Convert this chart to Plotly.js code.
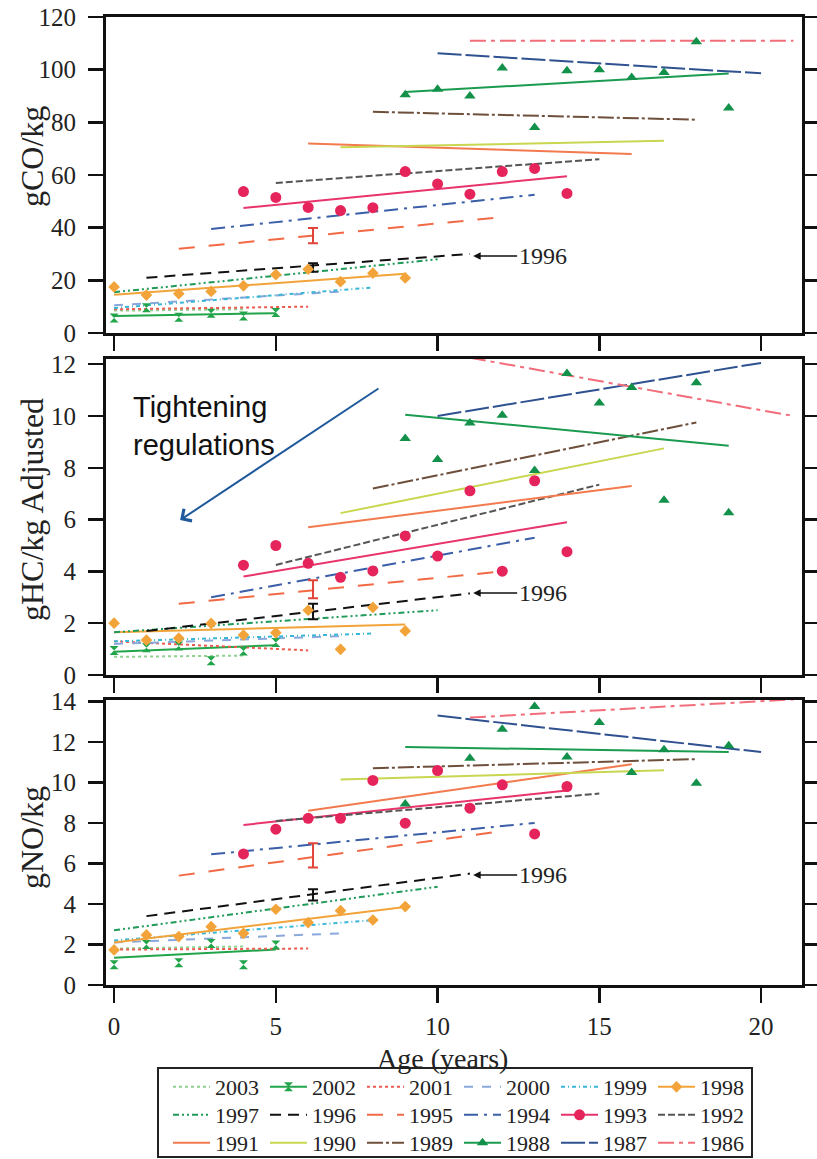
<!DOCTYPE html>
<html><head><meta charset="utf-8">
<script src="https://cdn.plot.ly/plotly-3.0.1.min.js"></script>
<style>html,body{margin:0;padding:0;background:#fff;overflow:hidden}#chart{width:817px;height:1176px}</style>
</head><body><div id="chart"></div>
<script>
// ---------- data ----------
const modelYears = ['2003','2002','2001','2000','1999','1998','1997','1996','1995','1994','1993','1992','1991','1990','1989','1988','1987','1986'];
const startAge = [0,0,0,0,0,0,0,1,2,3,4,5,6,7,8,9,10,11];
const endAge   = [4,5,6,7,8,9,10,11,12,13,14,15,16,17,18,19,20,21];

// fitted lines: value at start age / end age
const coStart = [8.5, 6.5, 9, 10.5, 9.5, 14.5, 15.5, 21, 32, 39.5, 47.5, 57, 72, 70.5, 84, 91.5, 106.2, 111];
const coEnd   = [9, 7.5, 10, 15.7, 17.3, 22.5, 28, 30, 44, 52.5, 59.5, 66, 68, 73, 81, 98.5, 98.6, 111];
const hcStart = [0.7, 0.9, 1.3, 1.2, 1.3, 1.65, 1.65, 1.7, 2.75, 3.0, 3.8, 4.25, 5.7, 6.25, 7.2, 10.05, 10.0, 12.25];
const hcEnd   = [0.75, 1.15, 0.95, 1.5, 1.6, 1.95, 2.5, 3.15, 4.0, 5.3, 5.9, 7.35, 7.3, 8.75, 9.75, 8.85, 12.05, 10.0];
const noStart = [1.8, 1.35, 1.75, 2.1, 2.2, 2.1, 2.7, 3.4, 5.4, 6.45, 7.9, 8.1, 8.6, 10.15, 10.7, 11.75, 13.3, 13.2];
const noEnd   = [1.9, 1.75, 1.8, 2.55, 3.2, 3.85, 4.85, 5.5, 7.6, 8.0, 9.6, 9.45, 10.9, 10.6, 11.15, 11.5, 11.5, 14.1];

// measured points
const ages2002 = [0,1,2,3,4,5];
const co2002 = [5.7, 9.6, 6.0, 7.5, 6.5, 7.8];
const hc2002 = [0.95, 1.05, 1.12, 0.55, 0.93, 1.25];
const no2002 = [1.0, 2.0, 1.1, 2.05, 1.0, 1.98];

const ages1998 = [0,1,2,3,4,5,6,7,8,9];
const co1998 = [17.5, 14.4, 14.9, 15.8, 17.9, 22.2, 24.2, 19.5, 22.7, 20.9];
const hc1998 = [2.0, 1.35, 1.42, 1.99, 1.54, 1.63, 2.5, 0.99, 2.61, 1.7];
const no1998 = [1.73, 2.47, 2.39, 2.88, 2.55, 3.74, 3.08, 3.67, 3.21, 3.87];

const ages1993 = [4,5,6,7,8,9,10,11,12,13,14];
const co1993 = [53.7, 51.5, 47.7, 46.5, 47.6, 61.3, 56.6, 52.7, 61.3, 62.5, 53.0];
const hc1993 = [4.24, 5.0, 4.31, 3.77, 4.02, 5.37, 4.59, 7.11, 4.01, 7.5, 4.76];
const no1993 = [6.47, 7.69, 8.23, 8.23, 10.1, 7.99, 10.59, 8.73, 9.88, 7.46, 9.8];

const ages1988 = [9,10,11,12,13,14,15,16,17,18,19];
const co1988 = [90.5, 92.6, 90.0, 100.6, 78.0, 99.6, 100.0, 97.0, 98.9, 110.6, 85.4];
const hc1988 = [9.13, 8.32, 9.73, 10.03, 7.9, 11.64, 10.5, 11.1, 6.75, 11.28, 6.26];
const no1988 = [8.94, null, 11.2, 12.63, 13.75, 11.25, 12.96, 10.49, 11.61, 9.96, 11.81];

// uncertainty bars (1995 and 1996 model years)
const errYears = ['1995','1996'];
const errAge = [6.15, 6.15];
const coErrMid = [37.0, 24.9];   const coErrHalf = [2.9, 1.6];
const hcErrMid = [3.31, 2.45];   const hcErrHalf = [0.35, 0.3];
const noErrMid = [6.4, 4.45];    const noErrHalf = [0.6, 0.28];

// "1996" callouts
const label1996Age = 11.1;
const label1996Values = [29.2, 3.17, 5.43];

const xTicks = [0,5,10,15,20];
const yTitles = ['gCO/kg', 'gHC/kg Adjusted', 'gNO/kg'];
const xTitle = 'Age (years)';
const noteText = 'Tightening<br>regulations';

// ---------- styles ----------
const colors = ['#8fcf8f','#21a44a','#ee5a4f','#8aa8dc','#39b6d6','#f2a43a','#1f9a58','#111111','#f26a45','#3b5ea8','#e8336b','#555555','#f27a4e','#c9d64f','#6e4f3c','#1b9b50','#2f5190','#f26d7a'];
const dashes = ['dot','solid','dot','dash','4px,3px,1px,3px','solid','6px,3px,2px,3px,2px,3px','11px,7px','16px,14px','14px,6px,3px,6px','solid','7px,3px','solid','solid','16px,3px,3px,3px','solid','24px,4px','16px,5px,4px,5px'];
const markerStyle = {
  '2002': {symbol:'hourglass', size:9, color:'#21a44a'},
  '1998': {symbol:'diamond', size:9, color:'#f2a43a'},
  '1993': {symbol:'circle', size:11, color:'#e5245c'},
  '1988': {symbol:'triangle-up', size:10, color:'#13904a'}
};
const serif = 'Liberation Serif';

const panels = [
  {xa:'x', ya:'y', s:coStart, e:coEnd, pts:{'2002':co2002,'1998':co1998,'1993':co1993,'1988':co1988}, em:coErrMid, eh:coErrHalf},
  {xa:'x2', ya:'y2', s:hcStart, e:hcEnd, pts:{'2002':hc2002,'1998':hc1998,'1993':hc1993,'1988':hc1988}, em:hcErrMid, eh:hcErrHalf},
  {xa:'x3', ya:'y3', s:noStart, e:noEnd, pts:{'2002':no2002,'1998':no1998,'1993':no1993,'1988':no1988}, em:noErrMid, eh:noErrHalf}
];
const ptAges = {'2002':ages2002,'1998':ages1998,'1993':ages1993,'1988':ages1988};
const errColors = ['#e0453a','#111111'];

const traces = [];
panels.forEach(p => {
  modelYears.forEach((yr, i) => {
    traces.push({type:'scatter', mode:'lines', xaxis:p.xa, yaxis:p.ya, name:yr, showlegend:false,
      x:[startAge[i], endAge[i]], y:[p.s[i], p.e[i]],
      line:{color:colors[i], width:2, dash:dashes[i]}, hoverinfo:'skip'});
  });
  errYears.forEach((yr, k) => {
    traces.push({type:'scatter', mode:'markers', xaxis:p.xa, yaxis:p.ya, name:yr+' range', showlegend:false,
      x:[errAge[k]], y:[p.em[k]], marker:{size:1, opacity:0, color:errColors[k]},
      error_y:{type:'data', array:[p.eh[k]], visible:true, color:errColors[k], thickness:2, width:5}});
  });
  ['2002','1998','1993','1988'].forEach(yr => {
    const ms = markerStyle[yr];
    traces.push({type:'scatter', mode:'markers', xaxis:p.xa, yaxis:p.ya, name:yr, showlegend:false,
      x:ptAges[yr], y:p.pts[yr], marker:{symbol:ms.symbol, size:ms.size, color:ms.color}});
  });
});
// legend entries
modelYears.forEach((yr, i) => {
  const ms = markerStyle[yr];
  const t = {type:'scatter', mode: ms ? 'lines+markers' : 'lines', x:[null], y:[null], xaxis:'x', yaxis:'y',
    name:yr, showlegend:true, legend: i < 6 ? 'legend' : (i < 12 ? 'legend2' : 'legend3'),
    line:{color:colors[i], width:2, dash:dashes[i]}};
  if (ms) t.marker = {symbol:ms.symbol, size:ms.size, color:ms.color};
  traces.push(t);
});

const W = 817, H = 1176;   // a little taller than the window so the last legend row is never pushed up
const px = v => v / W;
const py = v => 1 - v / H;
const xDom = [px(106), px(801.5)];

function xAxis(anchor, labels) {
  return {domain:xDom, anchor:anchor, range:[-0.25, 21.25], tickvals:xTicks, ticktext:xTicks.map(String),
    showticklabels:labels, ticks:'outside', ticklen:15, tickwidth:2.5, tickcolor:'#111',
    showline:true, linewidth:3, linecolor:'#111', mirror:true, showgrid:false, zeroline:false,
    tickfont:{family:serif, size:25, color:'#222'}, ticklabelstandoff:2};
}
function yAxis(anchor, dom, range, dtick) {
  return {domain:dom, anchor:anchor, range:range, tick0:0, dtick:dtick, ticks:'outside', ticklen:15, tickwidth:2.5,
    tickcolor:'#111', showline:true, linewidth:3, linecolor:'#111', mirror:'ticks', showgrid:false, zeroline:false,
    tickfont:{family:serif, size:25, color:'#222'}, ticklabelstandoff:7};
}
const legendBase = {orientation:'h', xanchor:'left', x:px(168), yanchor:'middle', bgcolor:'rgba(0,0,0,0)', borderwidth:0,
  font:{family:serif, size:22, color:'#222'}, entrywidth:45, entrywidthmode:'pixels', itemwidth:37, tracegroupgap:0};

const annotations = panels.map((p, k) => ({
  x:label1996Age, y:label1996Values[k], xref:p.xa, yref:p.ya, text:'1996', showarrow:true,
  ax:44, ay:0, xanchor:'left', arrowhead:2, arrowsize:1, arrowwidth:1.5, arrowcolor:'#111',
  font:{family:serif, size:24, color:'#222'}
}));
// axis titles
const yTitleCenters = [156, 510, 837];
yTitles.forEach((t, k) => annotations.push({xref:'paper', yref:'paper', x:px(32), y:py(yTitleCenters[k]),
  xanchor:'center', yanchor:'middle', textangle:-90, text:t, showarrow:false,
  font:{family:serif, size:32, color:'#222'}}));
annotations.push({xref:'paper', yref:'paper', x:px(442), y:py(1058), xanchor:'center', yanchor:'middle',
  text:xTitle, showarrow:false, borderpad:0, font:{family:serif, size:28, color:'#222'}});
annotations.push({xref:'paper', yref:'paper', x:px(131), y:py(426), xanchor:'left', yanchor:'middle', align:'left',
  text:noteText, showarrow:false, font:{family:'Liberation Sans', size:29, color:'#111'}});
annotations.push({xref:'x2', yref:'y2', x:2.04, y:5.98, axref:'x2', ayref:'y2', ax:8.22, ay:11.1, text:'',
  showarrow:true, arrowhead:4, arrowsize:1.4, arrowwidth:2, arrowcolor:'#1f5a9c'});

const layout = {
  width:W, height:H, margin:{l:0, r:0, t:0, b:0}, paper_bgcolor:'#fff', plot_bgcolor:'#fff',
  showlegend:true,
  xaxis: xAxis('y', false),
  yaxis: yAxis('x', [py(333), py(17)], [0, 120], 20),
  xaxis2: xAxis('y2', false),
  yaxis2: yAxis('x2', [py(675), py(359)], [0, 12.2], 2),
  xaxis3: xAxis('y3', true),
  yaxis3: yAxis('x3', [py(985), py(700)], [0, 14.07], 2),
  legend: Object.assign({}, legendBase, {y:py(1087)}),
  legend2: Object.assign({}, legendBase, {y:py(1115)}),
  legend3: Object.assign({}, legendBase, {y:py(1143)}),
  annotations: annotations,
  shapes:[{type:'rect', xref:'paper', yref:'paper', x0:px(158), x1:px(752), y0:py(1157), y1:py(1068),
    line:{color:'#222', width:2}, fillcolor:'rgba(0,0,0,0)'}]
};

Plotly.newPlot('chart', traces, layout, {staticPlot:true, displayModeBar:false});
</script>
</body></html>
